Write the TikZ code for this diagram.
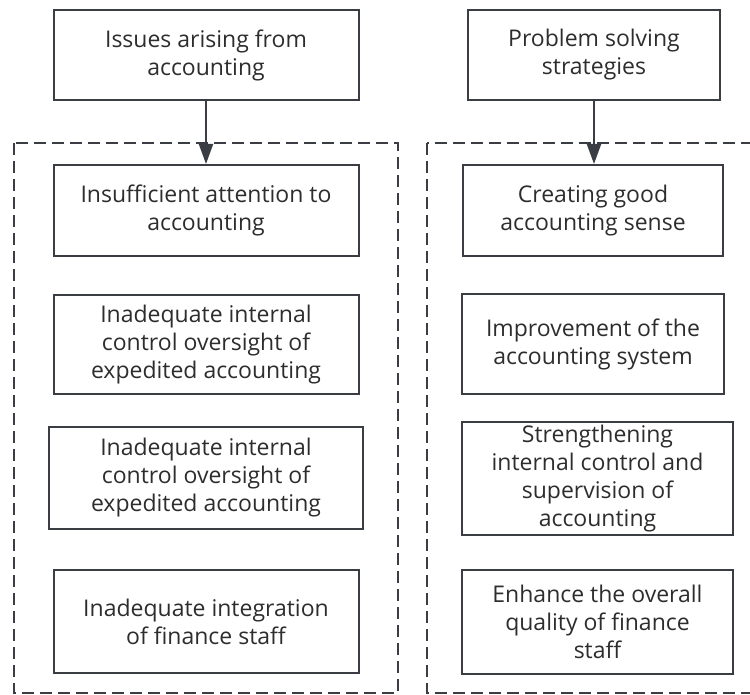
\documentclass[tikz,border=0pt]{standalone}
\usepackage{fontspec}
\setmainfont{Open Sans}
\usepackage{tikz}
\usetikzlibrary{
  arrows.meta,%
  positioning
}
\definecolor{ink}{RGB}{58,62,68}
\definecolor{txt}{RGB}{45,45,45}
\tikzset{>={Triangle[length=20pt,width=14pt]}}
\tikzset{
  box/.style={draw=ink, line width=2pt, rectangle, align=center,
    inner sep=0pt, text=txt, font=\fontsize{23}{28}\selectfont},
  frame/.style={draw=ink, line width=2pt, dash pattern=on 12pt off 6pt},
  link/.style={->, draw=ink, line width=2pt}
}

\begin{document}
\begin{tikzpicture}[x=1pt, y=-1pt]
  \useasboundingbox (0,0) rectangle (750,695);%
  \clip (0,0) rectangle (750,695);%
  % the two dashed groups
  \draw [frame] (14,143) rectangle (398,693);%
  \draw [frame] (427,143) rectangle (760,693);%
  % left column: issues
  \node [box, minimum width=305pt, minimum height=90pt] (issues) at (206,55)
    {Issues arising from\\accounting};%
  \node [box, minimum width=305pt, minimum height=91pt] (attention) at (206,210.5)
    {Insufficient attention to\\accounting};%
  \node [box, minimum width=305pt, minimum height=99pt] (oversightA) at (206,344.5)
    {Inadequate internal\\control oversight of\\expedited accounting};%
  \node [box, minimum width=314pt, minimum height=102pt] (oversightB) at (206,478)
    {Inadequate internal\\control oversight of\\expedited accounting};%
  \node [box, minimum width=305pt, minimum height=103pt] (staff) at (206,621.5)
    {Inadequate integration\\of finance staff};%
  % right column: strategies
  \node [box, minimum width=252pt, minimum height=90pt] (strategies) at (594,55)
    {Problem solving\\strategies};%
  \node [box, minimum width=260pt, minimum height=91pt] (sense) at (593,210.5)
    {Creating good\\accounting sense};%
  \node [box, minimum width=262pt, minimum height=100pt] (system) at (593,344)
    {Improvement of the\\accounting system};%
  \node [box, minimum width=271pt, minimum height=113pt] (control) at (597.5,478.5)
    {Strengthening\\internal control and\\supervision of\\accounting};%
  \node [box, minimum width=271pt, minimum height=104pt] (quality) at (597.5,622)
    {Enhance the overall\\quality of finance\\staff};%
  \draw [link] (issues.south) -- (attention.north);%
  \draw [link] (strategies.south) -- (strategies.south |- sense.north);%
\end{tikzpicture}
\end{document}
